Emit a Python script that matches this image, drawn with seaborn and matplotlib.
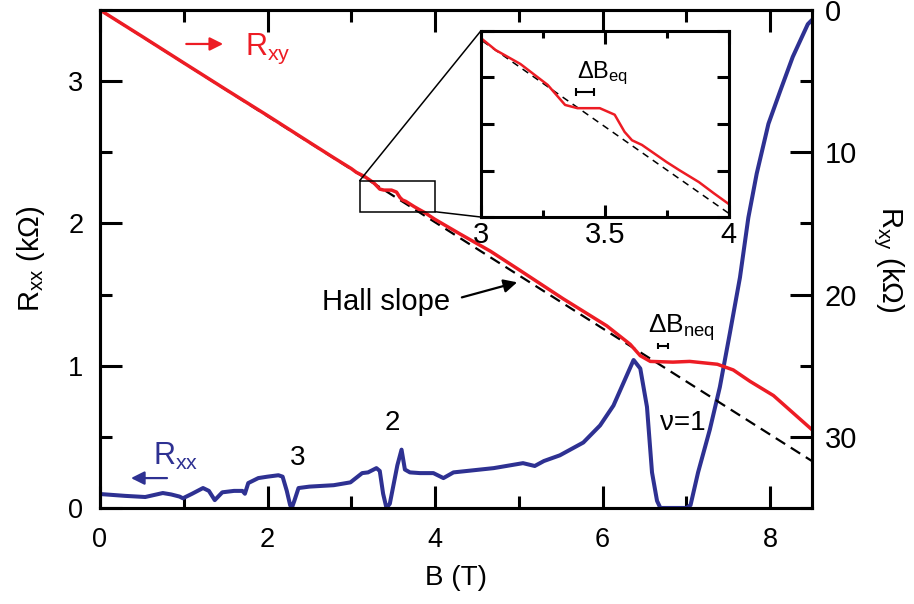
import numpy as np
import matplotlib
matplotlib.use("Agg")
import matplotlib.pyplot as plt
import seaborn as sns
from matplotlib.patches import Rectangle, ConnectionPatch
from matplotlib.ticker import MultipleLocator, NullFormatter

# longitudinal resistance R_xx (kOhm) vs field B (T)
B_xx = [0.0, 0.3, 0.54, 0.75, 0.85, 0.95, 0.99, 1.1, 1.23, 1.3, 1.37, 1.46, 1.6, 1.70,
        1.73, 1.77, 1.89, 2.0, 2.13, 2.18, 2.23, 2.27, 2.29, 2.32, 2.37, 2.5, 2.79, 2.99,
        3.13, 3.2, 3.30, 3.34, 3.38, 3.42, 3.46, 3.50, 3.55, 3.60, 3.64, 3.7, 3.82, 3.98,
        4.10, 4.22, 4.54, 4.70, 5.05, 5.19, 5.3, 5.49, 5.77, 5.97, 6.13, 6.25, 6.37, 6.45,
        6.53, 6.59, 6.65, 6.69, 6.8, 7.0, 7.05, 7.14, 7.28, 7.40, 7.52, 7.64, 7.74, 7.84,
        7.98, 8.12, 8.27, 8.45, 8.5]
R_xx = [0.098, 0.085, 0.077, 0.105, 0.095, 0.08, 0.068, 0.1, 0.14, 0.12, 0.055, 0.11, 0.12,
        0.12, 0.10, 0.175, 0.21, 0.22, 0.23, 0.22, 0.12, 0.02, 0.0, 0.05, 0.14, 0.15, 0.16,
        0.18, 0.245, 0.25, 0.28, 0.26, 0.1, 0.0, 0.03, 0.15, 0.3, 0.41, 0.27, 0.25, 0.245,
        0.245, 0.21, 0.25, 0.27, 0.28, 0.315, 0.295, 0.33, 0.37, 0.46, 0.58, 0.72, 0.88,
        1.04, 0.98, 0.71, 0.25, 0.05, 0.0, 0.0, 0.0, 0.02, 0.25, 0.55, 0.85, 1.23, 1.62,
        2.04, 2.35, 2.70, 2.93, 3.17, 3.40, 3.43]

# Hall resistance R_xy (kOhm) vs field B (T)
B_xy = [0.0, 0.5, 1.0, 1.5, 2.0, 2.5, 2.8, 3.0, 3.06, 3.16, 3.27, 3.34, 3.39, 3.48, 3.54,
        3.58, 3.61, 3.65, 3.75, 3.80, 3.88, 3.94, 4.0, 4.3, 4.66, 5.0, 5.53, 6.05, 6.33,
        6.45, 6.57, 6.84, 7.04, 7.37, 7.56, 7.76, 8.04, 8.27, 8.5]
R_xy = [0.0, 1.85, 3.72, 5.58, 7.42, 9.3, 10.42, 11.15, 11.41, 11.71, 12.16, 12.59, 12.66,
        12.66, 12.8, 13.17, 13.35, 13.45, 13.82, 13.99, 14.25, 14.49, 14.72, 15.75, 16.95,
        18.25, 20.3, 22.2, 23.5, 24.3, 24.7, 24.75, 24.7, 24.9, 25.3, 26.1, 27.1, 28.3, 29.5]

# classical Hall line
HALL_SLOPE = 3.73  # kOhm / T
hall_B = np.array([0.0, 8.5])
hall_R = HALL_SLOPE * hall_B

RED = "#ed1c24"
BLUE = "#2e3192"

sns.set_theme(style="ticks")
plt.rcParams["font.family"] = ["Liberation Sans", "DejaVu Sans"]
plt.rcParams["mathtext.default"] = "regular"
for key in ("text.color", "axes.labelcolor", "xtick.color", "ytick.color"):
    plt.rcParams[key] = "black"

fig = plt.figure(figsize=(9.14, 6.04), dpi=100)
ax = fig.add_axes([0.1094, 0.159, 0.779, 0.8245])
ax2 = ax.twinx()

sns.lineplot(x=B_xx, y=R_xx, ax=ax, color=BLUE, lw=2.9, estimator=None)
sns.lineplot(x=hall_B, y=hall_R, ax=ax2, color="black", lw=1.6, linestyle=(0, (5, 3)),
             estimator=None)
sns.lineplot(x=B_xy, y=R_xy, ax=ax2, color=RED, lw=2.5, estimator=None)

ax.set_xlim(0, 8.5)
ax.set_ylim(0, 3.5)
ax2.set_ylim(35, 0)

ax.xaxis.set_major_locator(MultipleLocator(2))
ax.xaxis.set_minor_locator(MultipleLocator(1))
ax.yaxis.set_major_locator(MultipleLocator(1))
ax.yaxis.set_minor_locator(MultipleLocator(0.5))
ax2.yaxis.set_major_locator(MultipleLocator(10))
ax2.yaxis.set_minor_locator(MultipleLocator(5))

for a in (ax, ax2):
    a.tick_params(which="both", direction="in", width=2.2, colors="black")
    a.tick_params(which="major", length=16)
    a.tick_params(which="minor", length=8.6)
    for s in a.spines.values():
        s.set_linewidth(2.2)
        s.set_color("black")
        s.set_visible(True)
ax.tick_params(which="both", top=True, right=False)
ax.tick_params(axis="x", labelsize=19.5, pad=13.5)
ax.tick_params(axis="y", labelsize=19.5, pad=12)
ax2.tick_params(axis="y", labelsize=21, pad=9)

ax.set_xlabel("B (T)", fontsize=20, labelpad=9)
ax.set_ylabel("R$_{xx}$ (kΩ)", fontsize=21, labelpad=15)
ax2.set_ylabel("R$_{xy}$ (kΩ)", fontsize=21, rotation=-90, va="bottom", labelpad=10)

# annotations
ax2.annotate("", xy=(1.47, 2.39), xytext=(1.03, 2.39),
             arrowprops=dict(arrowstyle="-|>", color=RED, lw=1.6, mutation_scale=20,
                             shrinkA=0, shrinkB=0))
ax2.text(1.73, 3.16, "R$_{xy}$", color=RED, fontsize=22, va="baseline")
ax.annotate("", xy=(0.37, 0.21), xytext=(0.80, 0.21),
            arrowprops=dict(arrowstyle="-|>", color=BLUE, lw=1.6, mutation_scale=20,
                            shrinkA=0, shrinkB=0))
ax.text(0.633, 0.30, "R$_{xx}$", color=BLUE, fontsize=22, va="baseline")

ax.text(2.65, 1.39, "Hall slope", fontsize=21, va="baseline")
ax.annotate("", xy=(4.98, 1.586), xytext=(4.32, 1.48),
            arrowprops=dict(arrowstyle="-|>", color="black", lw=1.6, mutation_scale=20,
                            shrinkA=0, shrinkB=0))
ax.text(2.36, 0.35, "3", fontsize=20, ha="center", va="center")
ax.text(3.49, 0.60, "2", fontsize=20, ha="center", va="center")
ax.text(6.96, 0.60, "ν=1", fontsize=20, ha="center", va="center")

ax2.text(6.54, 22.67, "ΔB$_{neq}$", fontsize=19, va="baseline")
ax2.errorbar([6.72], [23.65], xerr=[0.06], fmt="none", ecolor="black", elinewidth=1.5,
             capsize=2.2, capthick=1.5)

# zoom box
ax2.add_patch(Rectangle((3.10, 12.0), 0.9, 2.18, fill=False, ec="black", lw=1.1, zorder=5))

# inset
ax_in = fig.add_axes([0.526, 0.6407, 0.2713, 0.308])
ax_in.set_facecolor("white")
sns.lineplot(x=hall_B, y=hall_R, ax=ax_in, color="black", lw=1.1, linestyle=(0, (4.5, 3.5)),
             estimator=None)
sns.lineplot(x=B_xy, y=R_xy, ax=ax_in, color=RED, lw=1.8, estimator=None)
ax_in.set_xlim(3, 4)
ax_in.set_ylim(15, 11)
ax_in.set_xticks([3, 3.5, 4])
ax_in.set_xticklabels(["3", "3.5", "4"])
ax_in.set_xticks([3.25, 3.75], minor=True)
ax_in.set_yticks([11, 12, 13, 14, 15])
ax_in.yaxis.set_major_formatter(NullFormatter())
ax_in.tick_params(which="both", direction="in", top=True, right=True, width=2.2,
                  labelsize=21, pad=3, colors="black")
ax_in.tick_params(which="major", length=9)
ax_in.tick_params(which="minor", length=5)
for s in ax_in.spines.values():
    s.set_linewidth(2.2)
    s.set_color("black")
ax_in.text(3.387, 12.01, "ΔB$_{eq}$", fontsize=17, va="baseline")
ax_in.errorbar([3.42], [12.31], xerr=[0.035], fmt="none", ecolor="black", elinewidth=1.5,
               capsize=2.8, capthick=1.5)

for xy_main, xy_in in [((3.10, 12.0), (0, 1)), ((4.0, 14.18), (0, 0))]:
    con = ConnectionPatch(xyA=xy_main, coordsA=ax2.transData, xyB=xy_in,
                          coordsB=ax_in.transAxes, color="black", lw=1.1)
    fig.add_artist(con)

fig.savefig("out.png", dpi=100)
